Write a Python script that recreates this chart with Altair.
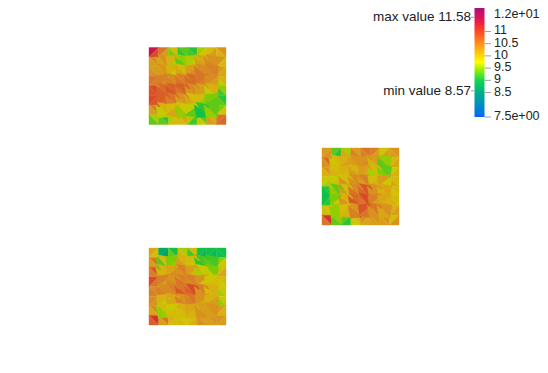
import altair as alt
import pandas as pd

# Cell values, top row first; each row holds two triangles per cell, left to right.
panel_a = [
    [11.5,11.0,10.6,10.2,9.9,9.4,9.3,9.1,9.1,9.2,9.6,9.8,9.9,10.2,10.3,10.0],
    [10.4,10.2,10.3,10.1,10.0,9.6,9.5,9.3,9.6,9.7,10.1,10.2,10.3,10.4,10.3,9.9],
    [10.2,10.3,10.3,10.2,10.0,9.8,9.9,10.1,10.2,10.4,10.4,10.6,10.5,10.4,10.2,10.1],
    [10.6,10.5,10.5,10.4,10.4,10.5,10.5,10.6,10.7,10.7,10.6,10.5,10.4,10.2,10.0,9.7],
    [11.0,10.9,10.7,10.8,10.8,10.9,10.8,10.6,10.4,10.3,10.2,10.2,10.0,9.7,9.5,9.2],
    [11.0,10.9,10.8,10.7,10.6,10.5,10.3,10.2,9.9,10.1,9.9,9.5,9.4,9.3,9.1,9.3],
    [10.5,10.2,10.0,9.7,9.9,10.1,9.8,9.5,9.7,9.3,9.1,9.0,9.3,9.5,9.4,9.8],
    [9.6,9.3,9.1,9.3,9.6,9.9,10.1,9.9,9.6,9.2,9.3,9.7,10.0,10.2,10.6,10.7],
]
panel_b = [
    [10.2,10.3,9.3,9.1,9.6,10.1,10.2,10.5,10.6,10.5,10.5,10.2,9.8,10.2,10.3,10.2],
    [10.7,10.3,9.9,9.8,10.0,10.2,10.3,10.2,10.3,10.4,10.2,10.0,9.5,9.3,9.9,10.1],
    [10.3,10.0,9.9,10.0,10.0,9.9,10.0,10.2,10.2,10.1,9.9,9.6,9.3,9.4,9.7,10.0],
    [9.8,9.6,9.7,9.9,9.9,10.3,10.4,10.3,10.5,10.2,9.9,10.0,10.2,9.8,9.9,10.1],
    [9.1,9.0,9.3,9.5,9.9,10.2,10.4,10.6,10.9,10.7,10.3,10.3,10.1,10.0,9.9,9.8],
    [9.0,9.1,9.4,9.8,10.0,10.3,10.7,10.9,11.0,10.6,10.5,10.2,10.1,10.0,9.9,10.0],
    [9.8,9.9,9.5,9.5,9.9,10.0,10.3,10.5,10.9,10.6,10.6,10.3,10.3,10.1,10.0,10.2],
    [11.2,10.6,9.5,9.3,9.3,9.1,9.9,9.8,10.3,10.1,10.3,10.2,10.3,10.2,9.9,10.3],
]
panel_c = [
    [10.1,9.9,8.7,8.6,9.0,9.3,9.6,9.9,9.9,9.2,9.0,8.9,9.0,8.9,9.0,9.0],
    [10.6,10.2,9.9,9.3,9.4,9.5,10.0,10.2,9.9,9.7,9.2,9.1,9.2,9.3,9.5,9.8],
    [10.9,10.5,10.0,10.0,10.1,10.4,10.5,10.3,10.2,10.0,9.8,9.6,9.4,9.7,9.9,10.1],
    [11.0,10.6,10.5,10.2,10.3,10.4,10.5,10.6,10.5,10.4,10.3,9.9,9.8,9.9,9.9,9.8],
    [10.4,10.5,10.4,10.5,10.5,10.4,10.6,10.9,11.0,10.8,10.5,10.3,10.0,9.9,9.8,9.6],
    [10.4,10.3,10.0,9.7,10.1,10.1,10.3,10.5,10.6,10.5,10.3,10.1,10.0,10.2,9.8,9.5],
    [10.4,10.1,9.9,9.5,9.8,9.9,10.0,9.9,10.1,10.0,10.2,10.3,10.3,10.2,10.2,10.0],
    [11.2,10.8,10.6,10.2,10.0,9.9,9.8,9.9,9.9,10.0,10.2,10.3,10.3,10.2,10.3,10.2],
]
panels = [(panel_a, 0.0, 2.604), (panel_b, 2.247, 1.299), (panel_c, 0.0, 0.0)]

stops = [7.5, 8.5, 9.0, 9.45, 9.75, 10.0, 10.5, 11.0, 11.4, 11.75, 12.0]
bar_colors = ["#0068ff", "#00b088", "#10d850", "#a0f000", "#ffff00", "#ffd800",
              "#ff9020", "#ff4820", "#f01848", "#c8106a", "#a80c70"]
mesh_colors = ["#0058d8", "#009878", "#10c048", "#88cc00", "#cccc00", "#d8b010",
               "#d88028", "#d84a28", "#d01840", "#b01060", "#a00c60"]

tick_values = [12, 11, 10.5, 10, 9.5, 9, 8.5, 7.5]
tick_labels = ["1.2e+01", "11", "10.5", "10", "9.5", "9", "8.5", "7.5e+00"]
tick_shift = [7, 0, 0, 0, 0, 0, 0, 0]
extreme_values = [11.58, 8.57]
extreme_labels = ["max value 11.58", "min value 8.57"]

BAR_STEP = 4.5 / 110
bar_levels = [7.5 + i * BAR_STEP for i in range(110)]

TRI = {
    "ul": "M-1,-1L1,-1L-1,1Z",
    "lr": "M1,-1L1,1L-1,1Z",
    "ur": "M-1,-1L1,-1L1,1Z",
    "ll": "M-1,-1L1,1L-1,1Z",
    # interior cells: uneven facets that lap over their neighbours
    "ul2": "M-1.5,-1.2L1.4,-1.5L-1.1,1.6Z",
    "lr2": "M1.5,-1.1L1.2,1.5L-1.6,1.1Z",
    "ur2": "M-1.3,-1.6L1.5,-1.1L1.1,1.5Z",
    "ll2": "M-1.6,-1.1L1.3,1.4L-1.1,1.6Z",
}

rows = []
for grid, ox, oy in panels:
    for r, row in enumerate(grid):
        for c in range(8):
            kinds = ("ul", "lr") if (r * 7 + c * 11 + r * c) % 5 < 2 else ("ur", "ll")
            inner = 1 <= r <= 6 and 1 <= c <= 6
            for t in range(2):
                base = {
                    "x": ox + (c + 0.5) / 8,
                    "y": oy + (7 - r + 0.5) / 8,
                    "v": row[2 * c + t],
                }
                rows.append({**base, "tri": kinds[t], "rank": 0})
                if inner:
                    rows.append({**base, "tri": kinds[t] + "2", "rank": 1})
mesh = pd.DataFrame(rows).sort_values("rank", kind="stable")

W, H = 532, 357
x_scale = alt.Scale(domain=[-141 / 77, 391 / 77], nice=False, zero=False)
y_scale = alt.Scale(domain=[-40 / 77, 317 / 77], nice=False, zero=False)
bar_y = alt.Scale(domain=[12 - 358 * BAR_STEP, 12 - BAR_STEP], nice=False, zero=False)
mesh_scale = alt.Scale(domain=stops, range=mesh_colors, interpolate="rgb")
bar_scale = alt.Scale(domain=stops, range=bar_colors, interpolate="rgb")

triangles = alt.Chart(mesh).mark_point(filled=True, opacity=1, size=92.6, strokeWidth=0.4).encode(
    x=alt.X("x:Q", scale=x_scale, axis=None),
    y=alt.Y("y:Q", scale=y_scale, axis=None),
    shape=alt.Shape("tri:N", scale=alt.Scale(domain=list(TRI), range=list(TRI.values())), legend=None),
    fill=alt.Fill("v:Q", scale=mesh_scale, legend=None),
    stroke=alt.Stroke("v:Q", scale=mesh_scale, legend=None),
    order=alt.Order("rank:Q"),
)

bar_df = pd.DataFrame({"lo": bar_levels, "hi": [b + BAR_STEP for b in bar_levels]})
bar_df["mid"] = bar_df["lo"] + BAR_STEP / 2
colorbar = alt.Chart(bar_df).mark_rect().encode(
    x=alt.value(466.5), x2=alt.value(476.5),
    y=alt.Y("lo:Q", scale=bar_y, axis=None), y2="hi:Q",
    color=alt.Color("mid:Q", scale=bar_scale, legend=None),
)

tick_df = pd.DataFrame({"v": tick_values, "label": tick_labels, "shift": tick_shift})
ticks = alt.Chart(tick_df).mark_rule(color="#a0a0a0", strokeWidth=1).encode(
    x=alt.value(476.5), x2=alt.value(483),
    y=alt.Y("v:Q", scale=bar_y, axis=None),
)
plain = alt.Chart(tick_df[tick_df["shift"] == 0]).mark_text(
    align="left", baseline="middle", font="Liberation Sans", fontSize=12.5, color="#222222", dy=-1,
).encode(
    x=alt.value(486),
    y=alt.Y("v:Q", scale=bar_y, axis=None),
    text="label:N",
)
top = alt.Chart(tick_df[tick_df["shift"] > 0]).mark_text(
    align="left", baseline="middle", font="Liberation Sans", fontSize=12.5, color="#222222", dy=7,
).encode(
    x=alt.value(486),
    y=alt.Y("v:Q", scale=bar_y, axis=None),
    text="label:N",
)

ext_df = pd.DataFrame({"v": extreme_values, "label": extreme_labels})
ext_ticks = alt.Chart(ext_df).mark_rule(color="#a0a0a0", strokeWidth=1).encode(
    x=alt.value(463), x2=alt.value(466.5),
    y=alt.Y("v:Q", scale=bar_y, axis=None),
)
ext_text = alt.Chart(ext_df).mark_text(
    align="right", baseline="middle", font="Liberation Sans", fontSize=13.5, color="#222222",
).encode(
    x=alt.value(463),
    y=alt.Y("v:Q", scale=bar_y, axis=None),
    text="label:N",
)

chart = alt.layer(triangles, colorbar, ticks, plain, top, ext_ticks, ext_text).resolve_scale(
    x="independent", y="independent", color="independent", fill="independent", stroke="independent",
).properties(
    width=W, height=H, padding=0, background="white",
    autosize=alt.AutoSizeParams(type="none"),
).configure_view(stroke=None)

chart.save("out.html", embed_options={"renderer": "svg", "actions": False})
